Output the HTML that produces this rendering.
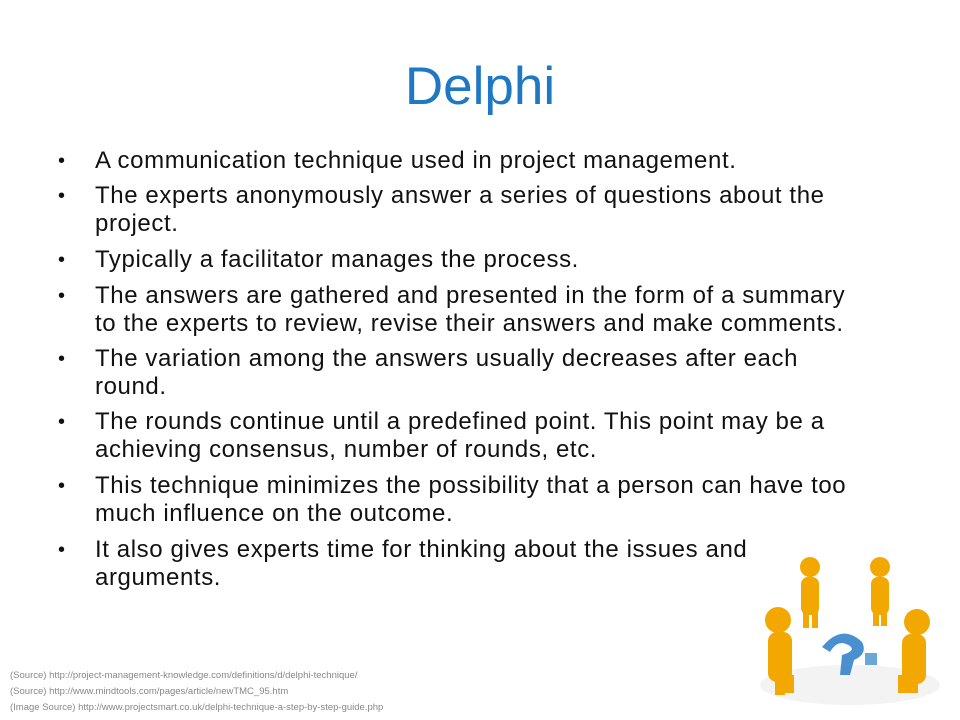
<!DOCTYPE html>
<html><head><meta charset="utf-8"><style>
body{margin:0;width:960px;height:720px;background:#fff;position:relative;overflow:hidden;font-family:"Liberation Sans",sans-serif}
.t{position:absolute;left:0;width:960px;top:57px;text-align:center;font-size:53px;color:#1f78c4;line-height:60px}
.l{position:absolute;left:95px;font-size:24px;letter-spacing:0.6px;color:#111;white-space:nowrap;line-height:28px}
.b{position:absolute;left:58px;font-size:20px;color:#111;line-height:28px}
.s{position:absolute;left:10px;font-size:9.5px;color:#888;white-space:nowrap}
</style></head><body>
<div class="t">Delphi</div>
<div>
<div class="b" style="top:147px">•</div><div class="l" style="top:147px">A communication technique used in project management.</div>
<div class="b" style="top:182px">•</div><div class="l" style="top:182px">The experts anonymously answer a series of questions about the</div>
<div class="l" style="top:210px">project.</div>
<div class="b" style="top:246px">•</div><div class="l" style="top:246px">Typically a facilitator manages the process.</div>
<div class="b" style="top:282px">•</div><div class="l" style="top:282px">The answers are gathered and presented in the form of a summary</div>
<div class="l" style="top:310px">to the experts to review, revise their answers and make comments.</div>
<div class="b" style="top:345px">•</div><div class="l" style="top:345px">The variation among the answers usually decreases after each</div>
<div class="l" style="top:373px">round.</div>
<div class="b" style="top:408px">•</div><div class="l" style="top:408px">The rounds continue until a predefined point. This point may be a</div>
<div class="l" style="top:436px">achieving consensus, number of rounds, etc.</div>
<div class="b" style="top:472px">•</div><div class="l" style="top:472px">This technique minimizes the possibility that a person can have too</div>
<div class="l" style="top:500px">much influence on the outcome.</div>
<div class="b" style="top:536px">•</div><div class="l" style="top:536px">It also gives experts time for thinking about the issues and</div>
<div class="l" style="top:564px">arguments.</div>
</div>
<div>
<div class="s" style="top:670px">(Source) http://project-management-knowledge.com/definitions/d/delphi-technique/</div>
<div class="s" style="top:686px">(Source) http://www.mindtools.com/pages/article/newTMC_95.htm</div>
<div class="s" style="top:702px">(Image Source) http://www.projectsmart.co.uk/delphi-technique-a-step-by-step-guide.php</div>
</div>
<svg style="position:absolute;left:740px;top:550px" width="220" height="170">
<ellipse cx="110" cy="135" rx="90" ry="20" fill="#f3f3f3"/>
<g fill="#f2a800">
<circle cx="70" cy="17" r="10"/><rect x="61" y="27" width="18" height="38" rx="7"/><rect x="63" y="60" width="6" height="18"/><rect x="72" y="60" width="6" height="18"/>
<circle cx="140" cy="17" r="10"/><rect x="131" y="27" width="18" height="38" rx="7"/><rect x="133" y="60" width="6" height="16"/><rect x="141" y="60" width="6" height="16"/>
<circle cx="38" cy="70" r="13"/><rect x="28" y="82" width="24" height="50" rx="9"/><rect x="35" y="125" width="10" height="20"/><rect x="44" y="125" width="10" height="18"/>
<circle cx="177" cy="72" r="13"/><rect x="162" y="84" width="24" height="50" rx="9"/><rect x="158" y="125" width="10" height="18"/><rect x="168" y="125" width="10" height="18"/>
</g>
<path d="M82 97 q20-24 40 -5 q6 12-8 18 l-4 15 h-10 l2-20 q14-4 8-9 q-12-8-20 6z" fill="#4a90d0"/>
<rect x="125" y="103" width="12" height="12" fill="#6aa8dc"/>
</svg>
</body></html>
